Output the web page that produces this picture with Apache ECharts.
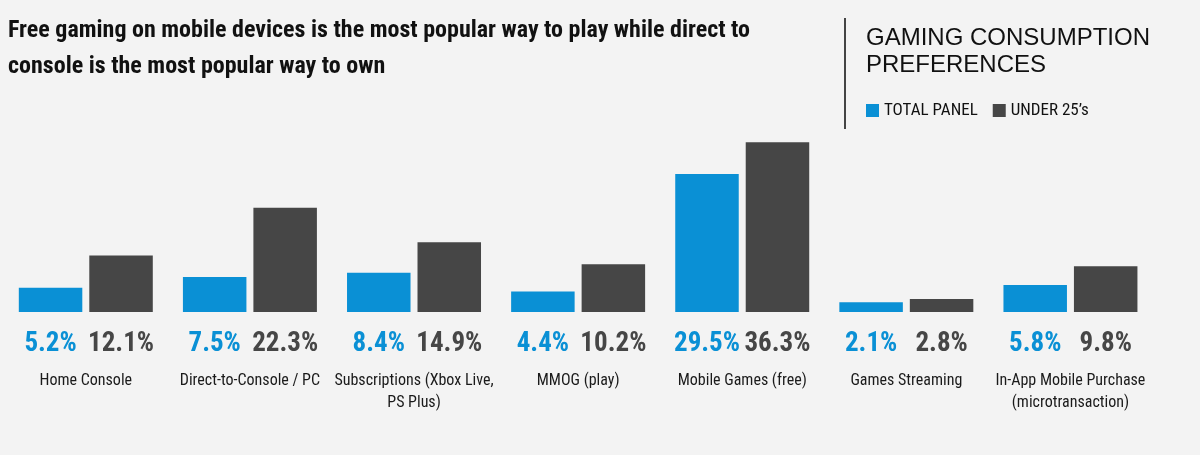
<!DOCTYPE html>
<html>
<head>
<meta charset="utf-8">
<title>Gaming consumption preferences</title>
<script src="https://cdn.jsdelivr.net/npm/echarts@6.0.0/dist/echarts.min.js"></script>
<style>
    html, body { margin: 0; padding: 0; background: #f3f3f3; }
    #chart { width: 1200px; height: 455px; }
</style>
</head>
<body>
<div id="chart"></div>
<script>
var categories = ["Home Console", "Direct-to-Console / PC", "Subscriptions (Xbox Live,\nPS Plus)", "MMOG (play)",
    "Mobile Games (free)", "Games Streaming", "In-App Mobile Purchase\n(microtransaction)"];
var totalPanel = [5.2, 7.5, 8.4, 4.4, 29.5, 2.1, 5.8];
var under25 = [12.1, 22.3, 14.9, 10.2, 36.3, 2.8, 9.8];
var seriesNames = ["TOTAL PANEL", "UNDER 25\u2019s"];

var NARROW = "'Roboto Condensed', 'Open Sans Condensed', 'DejaVu Sans Condensed', sans-serif";
var BLUE = "#0a90d5";
var DARK = "#464646";

function barSeries(name, data, color) {
    return {
        name: name,
        type: "bar",
        data: data,
        barWidth: 63.5,
        barGap: "11%",
        itemStyle: { color: color },
        label: {
            show: true,
            position: "bottom",
            distance: 19,
            formatter: "{c}%",
            fontFamily: NARROW,
            fontWeight: "bold",
            fontSize: 27,
            lineHeight: 27,
            color: color
        }
    };
}

var myChart = echarts.init(document.getElementById("chart"));
var option = {
    backgroundColor: "#f3f3f3",
    animation: false,
    title: [{
        text: "Free gaming on mobile devices is the most popular way to play while direct to\nconsole is the most popular way to own",
        left: 8,
        top: 13,
        padding: 0,
        textStyle: {
            fontFamily: NARROW,
            fontWeight: "bold",
            fontSize: 24,
            lineHeight: 36,
            color: "#111"
        }
    }, {
        text: "GAMING CONSUMPTION\nPREFERENCES",
        left: 866,
        top: 25,
        padding: 0,
        textStyle: {
            fontFamily: "'Liberation Sans', Arial, sans-serif",
            fontWeight: "normal",
            fontSize: 24,
            lineHeight: 27,
            color: "#111"
        }
    }],
    legend: {
        data: seriesNames,
        left: 866,
        top: 102,
        padding: 0,
        icon: "rect",
        itemWidth: 13,
        itemHeight: 13,
        itemGap: 15,
        textStyle: {
            fontFamily: NARROW,
            fontSize: 17,
            color: "#111"
        }
    },
    graphic: [{
        type: "line",
        shape: { x1: 845, y1: 18, x2: 845, y2: 129 },
        style: { stroke: "#444", lineWidth: 2 }
    }],
    grid: { left: 3.75, right: 47.5, top: 125, bottom: 143 },
    xAxis: {
        type: "category",
        data: categories,
        axisLine: { show: false },
        axisTick: { show: false },
        axisLabel: {
            interval: 0,
            margin: 58,
            fontFamily: NARROW,
            fontSize: 16,
            lineHeight: 22,
            color: "#1a1a1a"
        }
    },
    yAxis: {
        type: "value",
        min: 0,
        max: 40,
        show: false,
        splitLine: { show: false }
    },
    series: [
        barSeries(seriesNames[0], totalPanel, BLUE),
        barSeries(seriesNames[1], under25, DARK)
    ]
};
myChart.setOption(option);
</script>
</body>
</html>
